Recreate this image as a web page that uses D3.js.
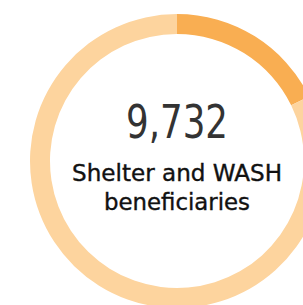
<!DOCTYPE html>
<html><head><meta charset="utf-8">
<script src="https://cdn.jsdelivr.net/npm/d3@7"></script>
<style>html,body{margin:0;padding:0;background:#fff;overflow:hidden}</style>
</head><body>
<svg id="chart" width="303" height="305"></svg>
<script>
const categories = ["Reached", "Remaining"];
const values = [9732, 45000];
const colors = ["#F9AE52", "#FDD49E"];
const bigLabel = "9,732";
const labelLines = ["Shelter and WASH", "beneficiaries"];

const svg = d3.select("#chart");
const cx = 177, cy = 161, rOuter = 147, rInner = 127;
const g = svg.append("g").attr("transform", `translate(${cx},${cy})`);
const pie = d3.pie().sort(null).value(d => d.v);
const arc = d3.arc().innerRadius(rInner).outerRadius(rOuter);
const color = d3.scaleOrdinal().domain(categories).range(colors);
g.selectAll("path").data(pie(categories.map((c,i)=>({c, v: values[i]}))))
  .join("path").attr("d", arc).attr("fill", d => color(d.data.c));

const font = "'DejaVu Sans Condensed','DejaVu Sans',sans-serif";
g.append("text").attr("x", 0).attr("y", -23).attr("text-anchor","middle")
  .attr("font-family", font)
  .attr("font-size", 47).attr("fill","#333333")
  .attr("textLength", 102).attr("lengthAdjust","spacingAndGlyphs")
  .text(bigLabel);
const lens = [210, 146];
g.selectAll("text.lbl").data(labelLines).join("text").attr("class","lbl")
  .attr("x", 0).attr("y", (d,i)=> 20 + i*29).attr("text-anchor","middle")
  .attr("font-family", font)
  .attr("font-size", 23).attr("fill","#111111")
  .attr("stroke","#111111").attr("stroke-width",0.35)
  .attr("textLength", (d,i)=>lens[i]).attr("lengthAdjust","spacingAndGlyphs")
  .text(d=>d);
</script>
</body></html>
